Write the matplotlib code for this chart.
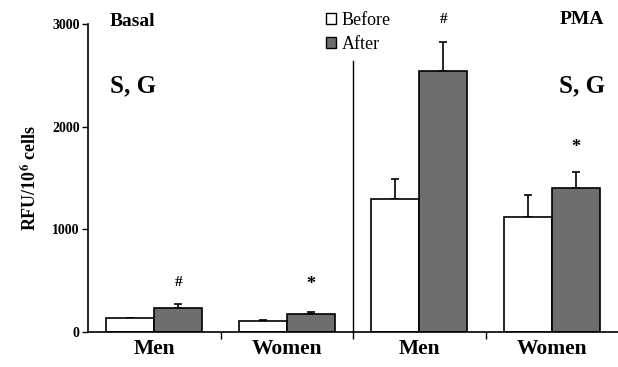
"""
Before/After RFU bar chart, Basal vs PMA, men and women.
"""

import numpy as np
import matplotlib
matplotlib.use("Agg")
import matplotlib.pyplot as plt
from matplotlib.patches import Patch

# ── Data ──────────────────────────────────────────────────────
categories   = ["Men", "Women", "Men", "Women"]
before_vals  = [140, 105, 1300, 1125]
before_err   = [0, 10, 190, 210]
after_vals   = [235, 180, 2545, 1405]
after_err    = [40, 15, 280, 150]
after_marks  = ["#", "*", "#", "*"]
mark_heights = [480, 460, 3040, 1800]

# ── Style ─────────────────────────────────────────────────────
SERIF     = ["Liberation Serif", "DejaVu Serif"]
GREY      = "#6e6e6e"
BAR_W     = 0.362

plt.rcParams["font.family"] = SERIF
plt.rcParams["mathtext.fontset"] = "stix"

fig = plt.figure(figsize=(6.18, 3.67), dpi=100)
ax = fig.add_axes([88 / 618, 35 / 367, 530 / 618, 308 / 367])

x = np.arange(len(categories))

ax.bar(x - BAR_W / 2, before_vals, BAR_W, color="white",
       edgecolor="black", linewidth=1.2, zorder=2)
ax.bar(x + BAR_W / 2, after_vals, BAR_W, color=GREY,
       edgecolor="black", linewidth=1.2, zorder=2)

# one-sided (upper) error bars
ax.errorbar(x - BAR_W / 2, before_vals,
            yerr=[np.zeros(len(x)), before_err],
            fmt="none", ecolor="black", elinewidth=1.2,
            capsize=3, capthick=1.2, zorder=1)
ax.errorbar(x + BAR_W / 2, after_vals,
            yerr=[np.zeros(len(x)), after_err],
            fmt="none", ecolor="black", elinewidth=1.2,
            capsize=3, capthick=1.2, zorder=1)

# significance marks
for xi, m, h in zip(x, after_marks, mark_heights):
    ax.text(xi + BAR_W / 2, h, m, ha="center", va="center",
            fontsize=13 if m == "*" else 11, fontweight="bold",
            clip_on=False)

# separator between Basal and PMA
ax.plot([1.5, 1.5], [0, 2640], color="black", linewidth=1.0,
        clip_on=False)

# panel labels
ax.text(-0.334, 3020, "Basal", ha="left", va="center",
        fontsize=14, fontweight="bold", clip_on=False)
ax.text(-0.334, 2400, "S, G", ha="left", va="center",
        fontsize=18, fontweight="bold")
ax.text(3.394, 3040, "PMA", ha="right", va="center",
        fontsize=14, fontweight="bold", clip_on=False)
ax.text(3.40, 2400, "S, G", ha="right", va="center",
        fontsize=18, fontweight="bold")

# legend
handles = [Patch(facecolor="white", edgecolor="black", linewidth=1.0),
           Patch(facecolor=GREY, edgecolor="black", linewidth=1.0)]
fig.legend(handles, ["Before", "After"], loc="upper left",
           bbox_to_anchor=(313 / 618, 1.003), frameon=False,
           fontsize=13, handlelength=0.55, handleheight=0.55,
           handletextpad=0.35, labelspacing=0.4, borderpad=0.2)

# axes
ax.set_xlim(-0.5, 3.5)
ax.set_ylim(0, 3000)
ax.set_yticks([0, 1000, 2000, 3000])
ax.set_yticklabels(["0", "1000", "2000", "3000"],
                   fontsize=10, fontweight="bold")
ax.set_xticks([0.5, 1.5, 2.5])
ax.set_xticklabels([])
ax.set_xticks(x, minor=True)
ax.set_xticklabels(categories, minor=True, fontsize=15.5, fontweight="bold")
ax.tick_params(axis="x", which="major", direction="out", length=5,
               width=1.0)
ax.tick_params(axis="x", which="minor", length=0, pad=5)
ax.tick_params(axis="y", direction="out", length=4, width=1.0, pad=2)

for side in ("top", "right"):
    ax.spines[side].set_visible(False)
for side in ("left", "bottom"):
    ax.spines[side].set_linewidth(1.2)

ax.set_ylabel(r"RFU/10$^{\mathbf{6}}$ cells", fontsize=13,
              fontweight="bold", labelpad=9)

fig.savefig("out.png", dpi=100, facecolor="white")
